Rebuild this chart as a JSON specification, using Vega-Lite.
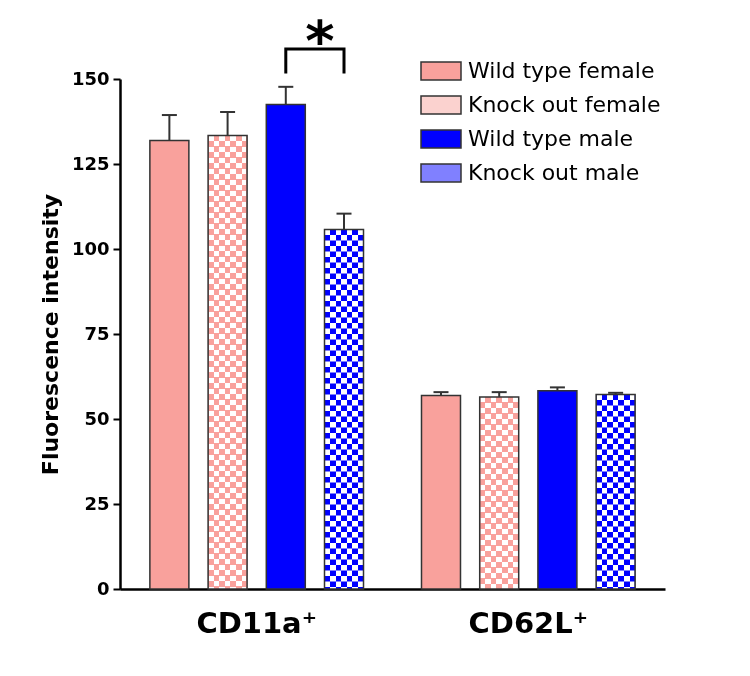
{
  "$schema": "https://vega.github.io/schema/vega-lite/v6.json",
  "width": 545,
  "height": 510,
  "autosize": {"type": "none"},
  "padding": {"left": 120, "top": 79, "right": 85, "bottom": 87},
  "background": "white",
  "config": {
    "view": {"stroke": null},
    "font": "DejaVu Sans",
    "axis": {"grid": false}
  },
  "datasets": {
    "bars": [
      {"cell": "CD11a⁺", "series": "Wild type female", "value": 131.9, "upper": 139.4},
      {"cell": "CD11a⁺", "series": "Knock out female", "value": 133.4, "upper": 140.3},
      {"cell": "CD11a⁺", "series": "Wild type male", "value": 142.5, "upper": 147.7},
      {"cell": "CD11a⁺", "series": "Knock out male", "value": 105.7, "upper": 110.4},
      {"cell": "CD62L⁺", "series": "Wild type female", "value": 56.9, "upper": 57.9},
      {"cell": "CD62L⁺", "series": "Knock out female", "value": 56.5, "upper": 57.9},
      {"cell": "CD62L⁺", "series": "Wild type male", "value": 58.3, "upper": 59.3},
      {"cell": "CD62L⁺", "series": "Knock out male", "value": 57.2, "upper": 57.7}
    ],
    "bracket": [
      {"cell": "CD11a⁺", "series": "Wild type male", "value": 151.6, "k": 1},
      {"cell": "CD11a⁺", "series": "Wild type male", "value": 158.8, "k": 2},
      {"cell": "CD11a⁺", "series": "Knock out male", "value": 158.8, "k": 3},
      {"cell": "CD11a⁺", "series": "Knock out male", "value": 151.6, "k": 4}
    ],
    "star": [
      {"cell": "CD11a⁺", "series": "Wild type male", "value": 158.8, "label": "*"}
    ]
  },
  "encoding": {
    "x": {
      "field": "cell", "type": "nominal", "title": null,
      "scale": {"domain": ["CD11a⁺", "CD62L⁺"], "paddingInner": 0.2135, "paddingOuter": 0.11},
      "axis": {
        "ticks": false, "tickSize": 0, "domainColor": "black", "domainWidth": 2.5,
        "labelFontSize": 29, "labelFontWeight": "bold", "labelColor": "black",
        "labelPadding": 20, "labelAngle": 0, "labelFont": "DejaVu Sans"
      }
    },
    "xOffset": {
      "field": "series", "type": "nominal",
      "scale": {"domain": ["Wild type female", "Knock out female", "Wild type male", "Knock out male"], "paddingInner": 0.33, "paddingOuter": 0}
    }
  },
  "layer": [
    {
      "data": {"name": "bars"},
      "mark": {"type": "bar"},
      "encoding": {
        "y": {
          "field": "value", "type": "quantitative", "title": "Fluorescence intensity",
          "scale": {"domain": [0, 150], "nice": false},
          "axis": {
            "values": [0, 25, 50, 75, 100, 125, 150],
            "labelFontWeight": "bold", "labelFontSize": 18, "labelColor": "black",
            "tickColor": "black", "tickSize": 7, "tickWidth": 2,
            "domainColor": "black", "domainWidth": 2.5,
            "titleFontSize": 22, "titleFontWeight": "bold", "titleColor": "black",
            "titlePadding": 9, "labelPadding": 4
          }
        },
        "color": {
          "field": "series", "type": "nominal",
          "scale": {
            "domain": ["Wild type female", "Knock out female", "Wild type male", "Knock out male"],
            "range": ["#F9A19C", "#FBD2CF", "#0000FF", "#8080FF"]
          },
          "legend": {
            "title": null, "orient": "none", "legendX": 300, "legendY": -29,
            "symbolType": "M-1,-0.45H1V0.45H-1Z", "symbolSize": 1600,
            "symbolStrokeColor": "#333", "symbolStrokeWidth": 1.5, "symbolOpacity": 1,
            "labelFontSize": 22, "labelColor": "black", "labelOffset": 6,
            "labelLimit": 400, "rowPadding": 1
          }
        }
      }
    },
    {
      "data": {"name": "bars"},
      "transform": [{"filter": "indexof(datum.series, 'Knock out') == 0"}],
      "mark": {
        "type": "bar",
        "fill": {
          "gradient": "linear", "x1": 0, "y1": 0, "x2": 1, "y2": 0,
          "stops": [
            {"offset": 0, "color": "black"}, {"offset": 0.142857, "color": "black"},
            {"offset": 0.142857, "color": "white"}, {"offset": 0.285714, "color": "white"},
            {"offset": 0.285714, "color": "black"}, {"offset": 0.428571, "color": "black"},
            {"offset": 0.428571, "color": "white"}, {"offset": 0.571429, "color": "white"},
            {"offset": 0.571429, "color": "black"}, {"offset": 0.714286, "color": "black"},
            {"offset": 0.714286, "color": "white"}, {"offset": 0.857143, "color": "white"},
            {"offset": 0.857143, "color": "black"}, {"offset": 1, "color": "black"}
          ]
        }
      },
      "encoding": {
        "y": {"field": "value", "type": "quantitative", "title": "Fluorescence intensity"}
      }
    },
    {
      "data": {"name": "bars"},
      "transform": [{"filter": "indexof(datum.series, 'Knock out') == 0"}],
      "mark": {"type": "rule", "stroke": "white", "strokeWidth": 38, "strokeDash": [5.5, 5.5], "strokeCap": "butt", "blend": "difference"},
      "encoding": {
        "y": {"field": "value", "type": "quantitative", "title": "Fluorescence intensity"},
        "y2": {"datum": 0}
      }
    },
    {
      "data": {"name": "bars"},
      "transform": [{"filter": "indexof(datum.series, 'Knock out') == 0"}],
      "mark": {"type": "bar", "blend": "lighten"},
      "encoding": {
        "y": {"field": "value", "type": "quantitative", "title": "Fluorescence intensity"},
        "fill": {"condition": {"test": "datum.series == 'Knock out male'", "value": "#0000FF"}, "value": "#F9A19C"}
      }
    },
    {
      "data": {"name": "bars"},
      "mark": {"type": "bar", "fillOpacity": 0, "stroke": "#333", "strokeWidth": 1.5},
      "encoding": {
        "y": {"field": "value", "type": "quantitative", "title": "Fluorescence intensity"}
      }
    },
    {
      "data": {"name": "bars"},
      "mark": {"type": "rule", "stroke": "#333", "strokeWidth": 2},
      "encoding": {
        "y": {"field": "value", "type": "quantitative", "title": "Fluorescence intensity"},
        "y2": {"field": "upper"}
      }
    },
    {
      "data": {"name": "bars"},
      "mark": {"type": "tick", "size": 15, "thickness": 2, "color": "#333", "opacity": 1},
      "encoding": {
        "y": {"field": "upper", "type": "quantitative", "title": "Fluorescence intensity"}
      }
    },
    {
      "data": {"name": "bracket"},
      "mark": {"type": "line", "stroke": "black", "strokeWidth": 3, "strokeJoin": "miter", "strokeCap": "butt"},
      "encoding": {
        "y": {"field": "value", "type": "quantitative", "title": "Fluorescence intensity"},
        "order": {"field": "k"}
      }
    },
    {
      "data": {"name": "star"},
      "mark": {"type": "text", "fontSize": 56, "fontWeight": "bold", "baseline": "alphabetic", "align": "center", "dx": 34, "dy": 11, "color": "black"},
      "encoding": {
        "y": {"field": "value", "type": "quantitative", "title": "Fluorescence intensity"},
        "text": {"field": "label"}
      }
    }
  ]
}
